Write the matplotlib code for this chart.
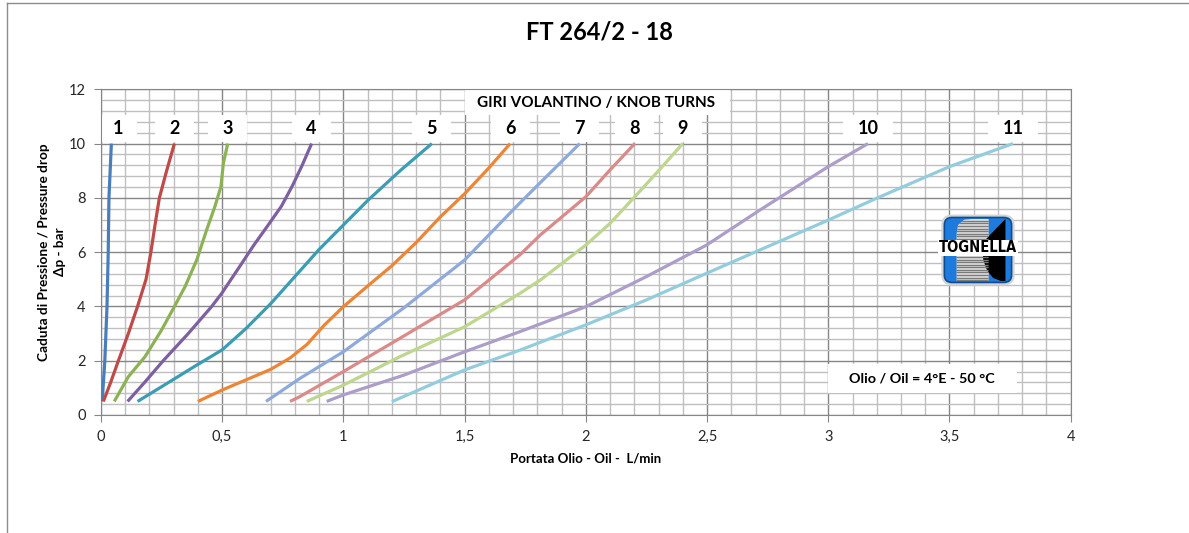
import matplotlib.pyplot as plt
from matplotlib.lines import Line2D
from matplotlib.patches import Rectangle, FancyBboxPatch, Polygon
from matplotlib.ticker import MultipleLocator, FuncFormatter

plt.rcParams['font.family'] = ['Lato', 'DejaVu Sans']

# portata olio (L/min) e caduta di pressione (bar) per ogni giro del volantino
q1 = [0.005, 0.016, 0.025, 0.030, 0.033, 0.043]
dp1 = [0.5, 2, 4, 6, 8, 10]

q2 = [0.01, 0.04, 0.072, 0.113, 0.151, 0.186, 0.206, 0.223, 0.241, 0.271, 0.303]
dp2 = [0.5, 1.2, 2, 3, 4, 5, 6, 7, 8, 9, 10]

q3 = [0.055, 0.113, 0.182, 0.25, 0.299, 0.347, 0.395, 0.436, 0.47, 0.495, 0.505, 0.523]
dp3 = [0.5, 1.41, 2.15, 3.13, 3.93, 4.73, 5.71, 6.82, 7.68, 8.42, 9.28, 10]

q4 = [0.11, 0.18, 0.257, 0.36, 0.457, 0.498, 0.567, 0.63, 0.69, 0.745, 0.79,
      0.83, 0.869]
dp4 = [0.5, 1.2, 2, 3, 4, 4.48, 5.4, 6.25, 7.0, 7.7, 8.45, 9.2, 10]

q5 = [0.151, 0.25, 0.388, 0.5, 0.6, 0.7, 0.8, 0.9, 1.0, 1.1, 1.234, 1.365]
dp5 = [0.5, 1.04, 1.8, 2.4, 3.2, 4.1, 5.1, 6.1, 7.0, 7.9, 9.0, 10]

q6 = [0.40, 0.5, 0.6, 0.7, 0.78, 0.85, 0.92, 1.0, 1.1, 1.2, 1.3, 1.4, 1.5, 1.6, 1.688]
dp6 = [0.5, 0.92, 1.3, 1.68, 2.1, 2.6, 3.3, 3.99, 4.75, 5.5, 6.35, 7.3, 8.15, 9.1, 10]

q7 = [0.681, 0.821, 1.0, 1.25, 1.5, 1.72, 1.81, 1.975]
dp7 = [0.5, 1.35, 2.33, 3.95, 5.71, 7.74, 8.54, 10]

q8 = [0.78, 0.821, 1.0, 1.2, 1.5, 1.728, 1.812, 2.0, 2.1, 2.202]
dp8 = [0.5, 0.68, 1.6, 2.65, 4.24, 5.9, 6.63, 8.04, 9.03, 10]

q9 = [0.849, 1.0, 1.234, 1.5, 1.728, 1.812, 2.0, 2.1, 2.202, 2.3, 2.4]
dp9 = [0.5, 1.1, 2.15, 3.25, 4.48, 4.97, 6.26, 7.06, 8.04, 9.0, 10]

q10 = [0.931, 1.0, 1.25, 1.5, 1.728, 2.0, 2.25, 2.498, 2.718, 3.0, 3.164]
dp10 = [0.5, 0.74, 1.47, 2.33, 3.07, 3.99, 5.1, 6.26, 7.55, 9.15, 10]

q11 = [1.2, 1.5, 1.728, 2.0, 2.25, 2.498, 2.718, 3.0, 3.198, 3.5, 3.762]
dp11 = [0.49, 1.66, 2.39, 3.32, 4.24, 5.22, 6.08, 7.18, 7.98, 9.15, 10]

flows = [q1, q2, q3, q4, q5, q6, q7, q8, q9, q10, q11]
drops = [dp1, dp2, dp3, dp4, dp5, dp6, dp7, dp8, dp9, dp10, dp11]
turns = ['1', '2', '3', '4', '5', '6', '7', '8', '9', '10', '11']
colors = ['#4A7EBB', '#BE4B48', '#8DB255', '#7D60A0', '#3C9CB4', '#EE8535',
          '#8EAADB', '#DA8A88', '#BED68E', '#AC9DC9', '#93CDDD']

MAJOR = '#868686'
MINOR = '#BFBFBF'


def draw_logo(ax):
    lg = ax.inset_axes([3.46, 4.72, 0.315, 2.72], transform=ax.transData)
    lg.set_xlim(0, 1)
    lg.set_ylim(0, 1)
    lg.axis('off')
    lg.add_patch(FancyBboxPatch((0.02, 0.02), 0.96, 0.96,
                                boxstyle='round,pad=0,rounding_size=0.14',
                                fc='#d4d4d4', ec='none'))
    lg.add_patch(FancyBboxPatch((0.06, 0.06), 0.88, 0.88,
                                boxstyle='round,pad=0,rounding_size=0.1',
                                fc='#1E7BDB', ec='#0C4C96', lw=1.2))
    # striped grey column with rounded top-left corner
    verts = [(0.22, 0.08), (0.22, 0.72), (0.24, 0.84), (0.32, 0.91),
             (0.42, 0.92), (0.64, 0.92), (0.64, 0.08), (0.22, 0.08)]
    col = Polygon(verts, closed=True, fc='#E2E2E2', ec='none')
    lg.add_patch(col)
    y = 0.09
    while y < 0.92:
        ln = lg.plot([0.2, 0.66], [y, y], color='#7A7A7A', lw=1.0)[0]
        ln.set_clip_path(col)
        y += 0.035
    # black blade on the right
    blade = [(0.58, 0.62), (0.86, 0.92), (0.86, 0.08), (0.80, 0.08),
             (0.70, 0.12), (0.62, 0.22), (0.57, 0.36), (0.56, 0.48)]
    lg.add_patch(Polygon(blade, closed=True, fc='black', ec='none'))
    lg.text(0.5, 0.53, 'TOGNELLA', ha='center', va='center', fontsize=10.5,
            fontweight='bold', family='DejaVu Sans', fontstretch='condensed',
            bbox=dict(boxstyle='square,pad=0.05', fc='white', ec='none'))


def main():
    fig = plt.figure(figsize=(11.89, 5.33), dpi=100)
    ax = fig.add_axes([0.0849, 0.2214, 0.8156, 0.6111])

    for q, dp, c in zip(flows, drops, colors):
        ax.plot(q, dp, color=c, lw=2.3, solid_capstyle='butt',
                solid_joinstyle='round', zorder=3)

    # turn numbers over the end of each curve
    for q, t in zip(flows, turns):
        xc = max(q[-1], 0.07)
        w = 0.16 if len(t) == 1 else 0.21
        ax.add_patch(Rectangle((xc - w / 2, 10.07), w, 1.0, fc='white',
                               ec='none', zorder=2))
        ax.text(xc, 10.55, t, ha='center', va='center', fontsize=13,
                fontweight='bold', zorder=4)

    ax.add_patch(Rectangle((1.5, 11.07), 1.094, 0.93, fc='white', ec='none', zorder=2))
    ax.text(2.04, 11.5, 'GIRI VOLANTINO / KNOB TURNS', ha='center', va='center',
            fontsize=11, fontweight='bold', zorder=4)

    ax.add_patch(Rectangle((3.0, 0.82), 0.78, 1.07, fc='white', ec='none', zorder=2))
    ax.text(3.385, 1.36, 'Olio / Oil = 4°E - 50 °C', ha='center', va='center',
            fontsize=10.4, fontweight='bold', zorder=4)

    draw_logo(ax)

    ax.set_xlim(0, 4)
    ax.set_ylim(0, 12)
    ax.xaxis.set_major_locator(MultipleLocator(0.5))
    ax.xaxis.set_minor_locator(MultipleLocator(0.1))
    ax.yaxis.set_major_locator(MultipleLocator(2))
    ax.yaxis.set_minor_locator(MultipleLocator(0.4))
    ax.xaxis.set_major_formatter(FuncFormatter(lambda v, p: f'{v:g}'.replace('.', ',')))
    ax.grid(True, which='major', color=MAJOR, lw=1.0)
    ax.grid(True, which='minor', color=MINOR, lw=1.0)
    ax.set_axisbelow(True)
    ax.tick_params(which='major', direction='out', length=5, color=MAJOR,
                   labelsize=10.5, labelcolor='#262626', pad=6)
    ax.tick_params(which='minor', length=0)
    for s in ax.spines.values():
        s.set_color(MAJOR)

    ax.set_xlabel('Portata Olio - Oil -  L/min', fontsize=9.5, fontweight='bold', labelpad=6)
    ax.set_ylabel('Caduta di Pressione / Pressure drop\nΔp - bar', fontsize=9.8,
                  fontweight='bold', labelpad=2, linespacing=1.4)
    fig.text(0.5045, 0.94, 'FT 264/2 - 18', ha='center', va='center',
             fontsize=17, fontweight='bold')

    # outer chart frame
    fig.add_artist(Line2D([0.0059, 0.0059], [0, 0.9944], color='#8C8C8C', lw=1))
    fig.add_artist(Line2D([0.0059, 1], [0.9944, 0.9944], color='#8C8C8C', lw=1))

    fig.savefig('out.png', dpi=100, facecolor='white')


if __name__ == '__main__':
    main()
